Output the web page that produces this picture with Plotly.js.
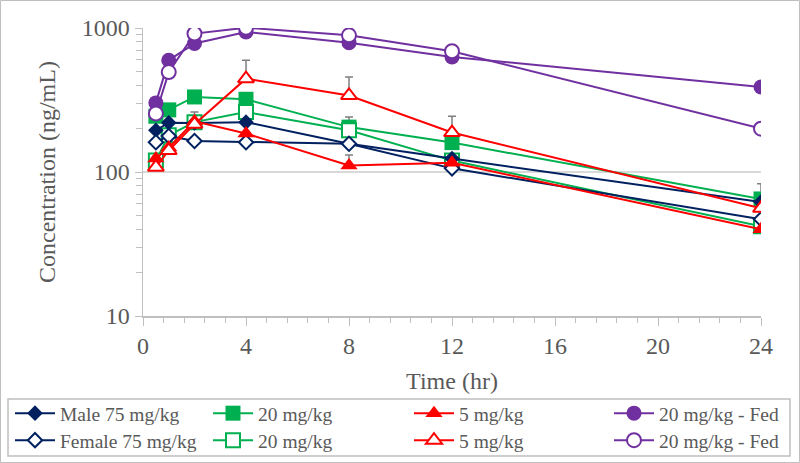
<!DOCTYPE html>
<html>
<head>
<meta charset="utf-8">
<script src="https://cdn.plot.ly/plotly-3.0.1.min.js"></script>
<style>
  body { margin: 0; background: #fff; }
  #graph { width: 800px; height: 463px; }
</style>
</head>
<body>
<div id="graph"></div>
<script>
// sampling times (hr)
var times = [0.5, 1, 2, 4, 8, 12, 24]

// mean concentrations (ng/mL)
var male75    = [195, 220, 219, 222, 157, 124, 62]
var female75  = [161, 178, 164, 161, 157, 106, 47]
var male20    = [244, 270, 332, 320, 205, 160, 65]
var female20  = [120, 180, 222, 261, 195, 120, 42]
var male5     = [124, 148, 225, 185, 111, 116, 40]
var female5   = [108, 141, 215, 445, 340, 188, 56]
var maleFed   = [302, 597, 780, 938, 791, 630, 389]
var femaleFed = [255, 494, 914, 1005, 890, 690, 200]

// upper error bars (only where visible)
var errMale75   = [NaN, 12, NaN, NaN, NaN, NaN, NaN]
var errMale20   = [NaN, NaN, NaN, NaN, 36, NaN, 18]
var errMale5    = [NaN, NaN, 36, NaN, 20, NaN, NaN]
var errFemale5  = [NaN, NaN, NaN, 152, 117, 56, NaN]

var seriesNames = ['Male 75 mg/kg', '20 mg/kg', '5 mg/kg', '20 mg/kg - Fed',
                   'Female 75 mg/kg', '20 mg/kg', '5 mg/kg', '20 mg/kg - Fed']

var navy = '#002060', green = '#00B050', red = '#FF0000', purple = '#7030A0'
var txt = '#595959'

// plot area in pixels
var L = 143, R = 39, T = 28, B = 147, W = 800, H = 463
function px2x(X) { return (X - L) / (W - L - R) }
function px2y(Y) { return (H - B - Y) / (H - T - B) }

function mk(y, name, color, symbol, size, open, err, leg) {
	var tr = {
		x: times,
		y: y,
		name: name,
		mode: 'lines+markers',
		legend: leg,
		line: { color: color, width: 2 },
		marker: {
			symbol: symbol,
			size: size,
			color: open ? '#ffffff' : color,
			line: { color: color, width: open ? 2 : 0 }
		},
		hoverinfo: 'none'
	}
	if (err) {
		tr.error_y = {
			type: 'data', symmetric: false, array: err,
			arrayminus: err.map(function(){ return 0 }),
			color: '#7f7f7f', thickness: 1.5, width: 4
		}
	}
	return tr
}

// drawing order (later on top); one legend box per entry
var traces = [
	mk(male20,    seriesNames[1], green,  'square',      15, false, errMale20,  'legend2'),
	mk(female20,  seriesNames[5], green,  'square',      14, true,  null,       'legend6'),
	mk(male75,    seriesNames[0], navy,   'diamond',     12, false, errMale75,  'legend'),
	mk(female75,  seriesNames[4], navy,   'diamond',     11, true,  null,       'legend5'),
	mk(male5,     seriesNames[2], red,    'triangle-up', 15, false, errMale5,   'legend3'),
	mk(female5,   seriesNames[6], red,    'triangle-up', 14, true,  errFemale5, 'legend7'),
	mk(maleFed,   seriesNames[3], purple, 'circle',      15, false, null,       'legend4'),
	mk(femaleFed, seriesNames[7], purple, 'circle',      14, true,  null,       'legend8')
]

var fnt = { family: 'Liberation Serif, Times New Roman, serif', color: txt }

function legendAt(xpx, ypx) {
	return {
		orientation: 'v',
		xref: 'container', yref: 'container',
		x: xpx / W, y: 1 - ypx / H,
		xanchor: 'left', yanchor: 'top',
		itemwidth: 40,
		bgcolor: 'rgba(0,0,0,0)',
		borderwidth: 0,
		font: { size: 19.5, family: fnt.family, color: txt }
	}
}

var colX = [10, 208, 409, 609]
var rowY = [394, 421]

var layout = {
	width: W, height: H,
	margin: { l: L, r: R, t: T, b: B, autoexpand: false },
	paper_bgcolor: '#ffffff',
	plot_bgcolor: '#ffffff',
	font: { family: fnt.family, color: txt, size: 24 },
	showlegend: true,
	xaxis: {
		range: [0, 24], autorange: false,
		tickvals: [0, 4, 8, 12, 16, 20, 24],
		ticks: 'outside', ticklen: 8, tickcolor: '#bfbfbf', tickwidth: 1,
		minor: { dtick: 0.8, tick0: 0, ticks: 'outside', ticklen: 5, tickcolor: '#bfbfbf', showgrid: false },
		showline: true, linecolor: '#bfbfbf', linewidth: 1.5,
		showgrid: false, zeroline: false,
		tickfont: { size: 24, family: fnt.family, color: txt },
		title: { text: 'Time (hr)', font: { size: 24, family: fnt.family, color: txt }, standoff: 14 },
		automargin: false
	},
	yaxis: {
		type: 'log', range: [1, 3], autorange: false,
		tickvals: [10, 100, 1000],
		ticktext: ['10', '100', '1000'],
		ticks: 'outside', ticklen: 7, tickcolor: '#bfbfbf', tickwidth: 1,
		minor: {
			tickvals: [20, 30, 40, 50, 60, 70, 80, 90, 200, 300, 400, 500, 600, 700, 800, 900],
			ticks: 'outside', ticklen: 6, tickcolor: '#bfbfbf', showgrid: false
		},
		showline: true, linecolor: '#bfbfbf', linewidth: 1.5,
		showgrid: true, gridcolor: '#d9d9d9', gridwidth: 1.5,
		zeroline: false,
		tickfont: { size: 24, family: fnt.family, color: txt },
		automargin: false
	},
	annotations: [
		{ text: 'Concentration (ng/mL)', xref: 'paper', yref: 'paper',
		  x: px2x(47), y: 0.5, xanchor: 'center', yanchor: 'middle',
		  textangle: -90, showarrow: false,
		  font: { size: 24, family: fnt.family, color: txt } }
	],
	legend:  legendAt(colX[0], rowY[0]),
	legend2: legendAt(colX[1], rowY[0]),
	legend3: legendAt(colX[2], rowY[0]),
	legend4: legendAt(colX[3], rowY[0]),
	legend5: legendAt(colX[0], rowY[1]),
	legend6: legendAt(colX[1], rowY[1]),
	legend7: legendAt(colX[2], rowY[1]),
	legend8: legendAt(colX[3], rowY[1]),
	shapes: [
		// chart border
		{ type: 'rect', xref: 'paper', yref: 'paper',
		  x0: px2x(0.5), x1: px2x(799.5), y0: px2y(462.5), y1: px2y(0.5),
		  line: { color: '#bfbfbf', width: 1 } },
		// legend border
		{ type: 'rect', xref: 'paper', yref: 'paper',
		  x0: px2x(8), x1: px2x(790), y0: px2y(456), y1: px2y(399),
		  line: { color: '#bfbfbf', width: 1.5 } }
	]
}

Plotly.newPlot('graph', traces, layout, { displayModeBar: false, staticPlot: true })
</script>
</body>
</html>
